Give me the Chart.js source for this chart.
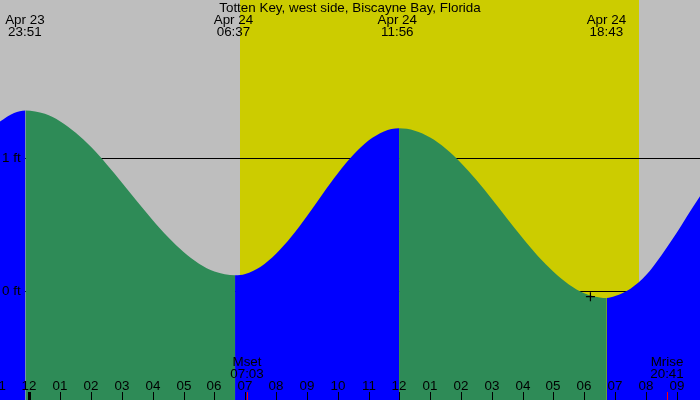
<!DOCTYPE html>
<html>
<head>
<meta charset="utf-8">
<script src="https://cdn.jsdelivr.net/npm/chart.js@4/dist/chart.umd.min.js"></script>
<style>
  html, body { margin: 0; padding: 0; background: #bebebe; }
  canvas { display: block; }
</style>
</head>
<body>
<canvas id="chart" width="700" height="400"></canvas>
<script>
// hours after midnight Apr 24 (negative = Apr 23), heights in ft
const tideHours = [
    -1, -0.5, -0.13, 0.5, 1, 1.5, 2, 2.5, 3, 3.5, 4, 4.5, 5, 5.5, 6, 6.67,
    7, 7.5, 8, 8.5, 9, 9.5, 10, 10.5, 11, 11.5, 11.99,
    12.5, 13, 13.5, 14, 14.5, 15, 15.5, 16, 16.5, 17, 17.5, 18, 18.5, 18.73,
    19, 19.5, 20, 20.5, 21, 21.5, 22
];
const tideHeights = [
    1.27, 1.34, 1.36, 1.334, 1.277, 1.192, 1.084, 0.956, 0.817, 0.674, 0.535, 0.406, 0.296, 0.208, 0.149, 0.12,
    0.13, 0.185, 0.282, 0.412, 0.565, 0.728, 0.885, 1.024, 1.133, 1.202, 1.225,
    1.207, 1.156, 1.074, 0.965, 0.836, 0.694, 0.546, 0.40, 0.264, 0.147, 0.052, -0.014, -0.046, -0.05,
    -0.035, 0.02, 0.12, 0.27, 0.44, 0.625, 0.80
];

const eventHours = [-0.15, 6.617, 11.933, 18.717];
const eventDates = ["Apr 23", "Apr 24", "Apr 24", "Apr 24"];
const eventTimes = ["23:51", "06:37", "11:56", "18:43"];

const moonHours  = [7.05, 20.683];
const moonNames  = ["Mset", "Mrise"];
const moonTimes  = ["07:03", "20:41"];

const sunrise = 6.83;
const sunset = 19.78;

const hourTicks = [-1, 0, 1, 2, 3, 4, 5, 6, 7, 8, 9, 10, 11, 12, 13, 14, 15, 16, 17, 18, 19, 20, 21];
const levelTicks = [0, 1];
const levelLabels = ["0 ft", "1 ft"];

const title = "Totten Key, west side, Biscayne Bay, Florida";
const nowMark = { x: 18.2, y: -0.04 };

const FONT = "13.4px 'Liberation Sans', Arial, sans-serif";
const BLUE = "#0000ff";
const GREEN = "#2e8b57";

const backdrop = {
    id: "backdrop",
    beforeDraw(chart) {
        const { ctx, scales: { x }, chartArea: a } = chart;
        ctx.save();
        ctx.fillStyle = "#bebebe";
        ctx.fillRect(0, 0, chart.width, chart.height);
        ctx.fillStyle = "#cccc00";
        const x0 = Math.round(x.getPixelForValue(sunrise));
        const x1 = Math.round(x.getPixelForValue(sunset));
        ctx.fillRect(x0, a.top, x1 - x0, a.bottom - a.top);
        ctx.restore();
    },
    beforeDatasetsDraw(chart) {
        const { ctx, scales: { y }, chartArea: a } = chart;
        ctx.save();
        ctx.strokeStyle = "#000";
        ctx.lineWidth = 1;
        levelTicks.forEach(v => {
            const py = Math.round(y.getPixelForValue(v)) + 0.5;
            ctx.beginPath();
            ctx.moveTo(a.left, py);
            ctx.lineTo(a.right, py);
            ctx.stroke();
        });
        ctx.restore();
    },
    afterDatasetsDraw(chart) {
        const { ctx, scales: { x, y } } = chart;
        ctx.save();
        ctx.font = FONT;
        ctx.fillStyle = "#000";
        ctx.textBaseline = "middle";

        // level labels
        ctx.textAlign = "left";
        levelTicks.forEach((v, i) => {
            ctx.fillText(levelLabels[i], 2, y.getPixelForValue(v));
        });

        // hour ticks
        ctx.textAlign = "center";
        hourTicks.forEach(h => {
            const px = Math.round(x.getPixelForValue(h));
            const w = h % 24 === 0 ? 3 : 1;
            ctx.fillRect(px - Math.floor(w / 2), 392, w, 8);
            let lab = ((h % 12) + 12) % 12;
            if (lab === 0) lab = 12;
            ctx.fillText(String(lab).padStart(2, "0"), px, 386);
        });

        // moon events
        moonHours.forEach((h, i) => {
            const px = Math.round(x.getPixelForValue(h));
            ctx.fillStyle = "#ff0000";
            ctx.fillRect(px, 392, 1, 8);
            ctx.fillStyle = "#000";
            ctx.fillText(moonNames[i], px, 362);
            ctx.fillText(moonTimes[i], px, 374);
        });

        // tide events + title
        eventHours.forEach((h, i) => {
            const px = x.getPixelForValue(h);
            ctx.fillText(eventDates[i], px, 20);
            ctx.fillText(eventTimes[i], px, 32);
        });
        ctx.fillText(title, 350, 8);
        ctx.restore();
    }
};

new Chart(document.getElementById("chart"), {
    type: "line",
    data: {
        datasets: [{
            order: 2,
            data: tideHours.map((t, i) => ({ x: t, y: tideHeights[i] })),
            borderWidth: 0,
            pointRadius: 0,
            fill: "start",
            backgroundColor: GREEN,
            cubicInterpolationMode: "monotone",
            segment: {
                backgroundColor: c => c.p1.parsed.y > c.p0.parsed.y ? BLUE : GREEN
            }
        }, {
            order: 1,
            type: "scatter",
            data: [nowMark],
            pointStyle: "cross",
            pointRadius: 4.5,
            borderColor: "#000",
            borderWidth: 1.2
        }]
    },
    options: {
        responsive: false,
        animation: false,
        devicePixelRatio: 1,
        layout: { padding: 0, autoPadding: false },
        scales: {
            x: { type: "linear", min: -0.957, max: 21.755, display: false },
            y: { min: -0.817, max: 2.19, display: false }
        },
        plugins: { legend: { display: false }, tooltip: { enabled: false } }
    },
    plugins: [backdrop]
});
</script>
</body>
</html>
